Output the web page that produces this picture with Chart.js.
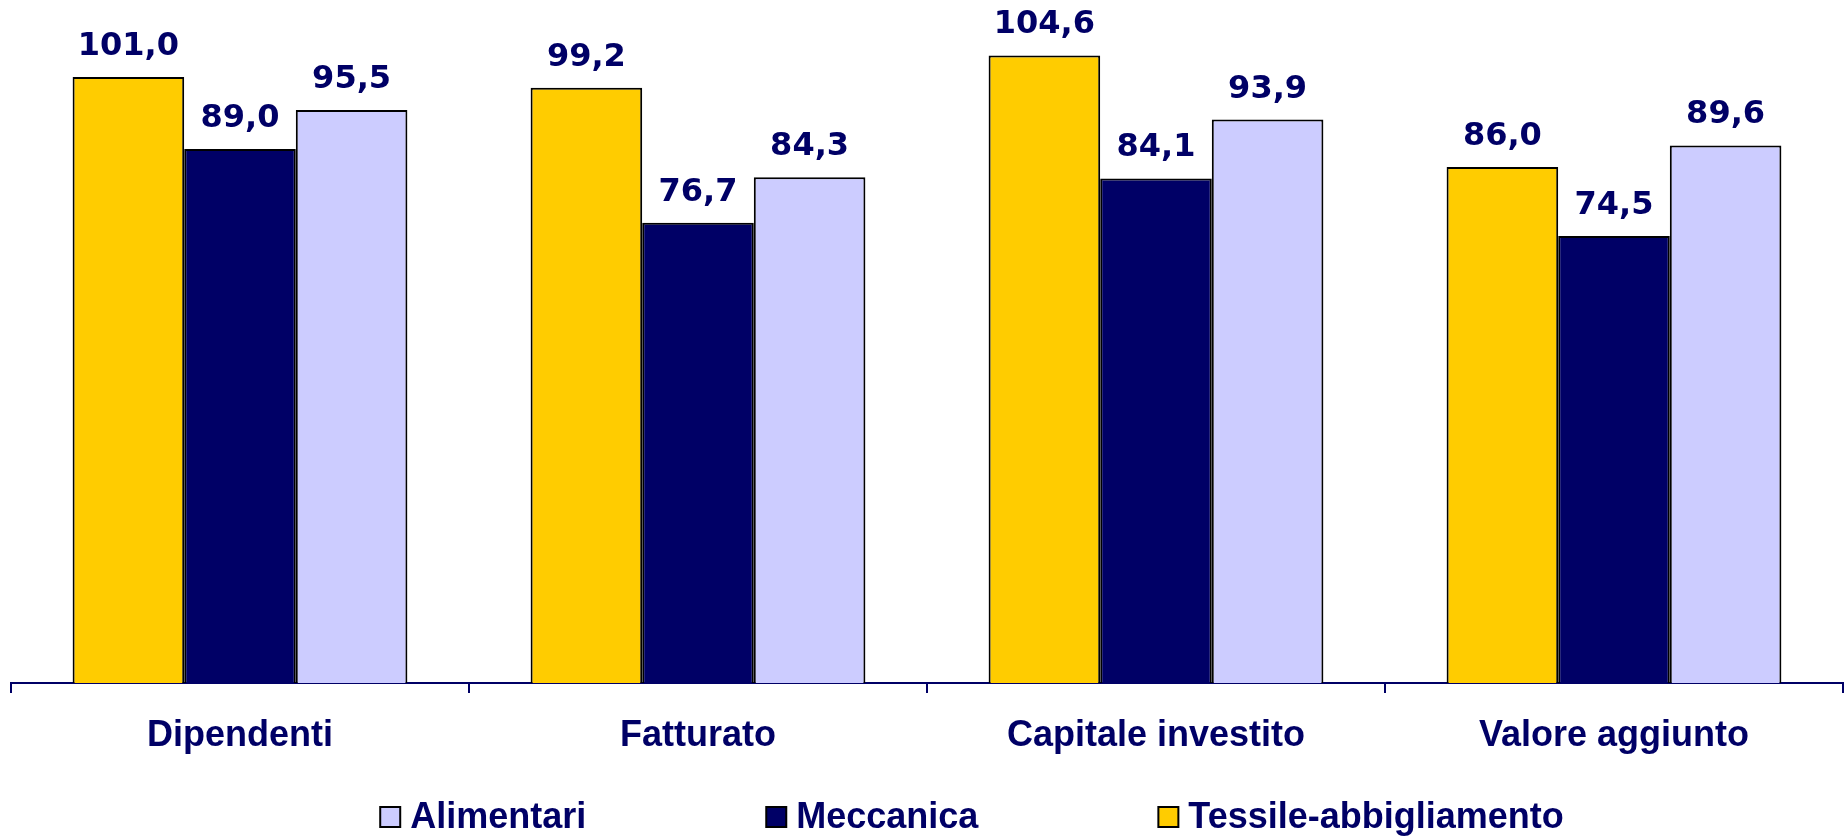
<!DOCTYPE html>
<html>
<head>
<meta charset="utf-8">
<script src="https://cdn.jsdelivr.net/npm/chart.js@4.4.1/dist/chart.umd.min.js"></script>
<style>
  html, body { margin: 0; padding: 0; background: #fff; }
</style>
</head>
<body>
<canvas id="chart" width="1845" height="837"></canvas>
<script>
const categories = ['Dipendenti', 'Fatturato', 'Capitale investito', 'Valore aggiunto'];
const tessile = [101.0, 99.2, 104.6, 86.0];
const meccanica = [89.0, 76.7, 84.1, 74.5];
const alimentari = [95.5, 84.3, 93.9, 89.6];

const NAVY = '#000066';
const fmt = v => v.toFixed(1).replace('.', ',');

// value labels above each bar
const valueLabels = {
  id: 'valueLabels',
  afterDatasetsDraw(chart) {
    const ctx = chart.ctx;
    ctx.save();
    ctx.font = 'bold 32px "DejaVu Sans"';
    ctx.fillStyle = NAVY;
    ctx.textAlign = 'center';
    ctx.textBaseline = 'alphabetic';
    chart.data.datasets.forEach((ds, i) => {
      chart.getDatasetMeta(i).data.forEach((bar, j) => {
        ctx.fillText(fmt(ds.data[j]), bar.x, bar.y - 22);
      });
    });
    ctx.restore();
  }
};

// legend at the bottom, reversed order, wide gaps like the original
const bottomLegend = {
  id: 'bottomLegend',
  afterDraw(chart) {
    const ctx = chart.ctx;
    const box = 20, gapText = 10, gapItem = 180;
    ctx.save();
    ctx.font = 'bold 36px "Liberation Sans"';
    const items = chart.data.datasets.map(ds => ({ text: ds.label, color: ds.backgroundColor })).reverse();
    const widths = items.map(it => box + gapText + ctx.measureText(it.text).width);
    const total = widths.reduce((a, b) => a + b, 0) + gapItem * (items.length - 1);
    const area = chart.chartArea;
    let x = (area.left + area.right) / 2 + 45 - total / 2;
    const base = chart.height - 9;
    items.forEach((it, i) => {
      ctx.fillStyle = it.color;
      ctx.fillRect(x, base - 21, box, box);
      ctx.lineWidth = 2;
      ctx.strokeStyle = '#000';
      ctx.strokeRect(x, base - 21, box, box);
      ctx.fillStyle = NAVY;
      ctx.textAlign = 'left';
      ctx.textBaseline = 'alphabetic';
      ctx.fillText(it.text, x + box + gapText, base);
      x += widths[i] + gapItem;
    });
    ctx.restore();
  }
};

new Chart(document.getElementById('chart'), {
  type: 'bar',
  data: {
    labels: categories,
    datasets: [
      { label: 'Tessile-abbigliamento', data: tessile, backgroundColor: '#FFCC00' },
      { label: 'Meccanica', data: meccanica, backgroundColor: '#000066' },
      { label: 'Alimentari', data: alimentari, backgroundColor: '#CCCCFF' }
    ].map(ds => Object.assign(ds, { borderColor: '#000', borderWidth: 2 }))
  },
  options: {
    responsive: false,
    animation: false,
    layout: { padding: { left: 11, right: 2, top: 23, bottom: 74 } },
    datasets: { bar: { categoryPercentage: 0.731, barPercentage: 1 } },
    plugins: { legend: { display: false }, tooltip: { enabled: false } },
    scales: {
      y: { display: false, min: 0, max: 110 },
      x: {
        grid: { offset: true, drawOnChartArea: false, drawTicks: true, tickLength: 10, color: NAVY, lineWidth: 2 },
        border: { color: NAVY, width: 2 },
        ticks: { color: NAVY, padding: 21, font: { family: 'Liberation Sans', size: 36, weight: 'bold' } },
        afterFit(scale) { scale.height = 80; }
      }
    }
  },
  plugins: [valueLabels, bottomLegend]
});
</script>
</body>
</html>
